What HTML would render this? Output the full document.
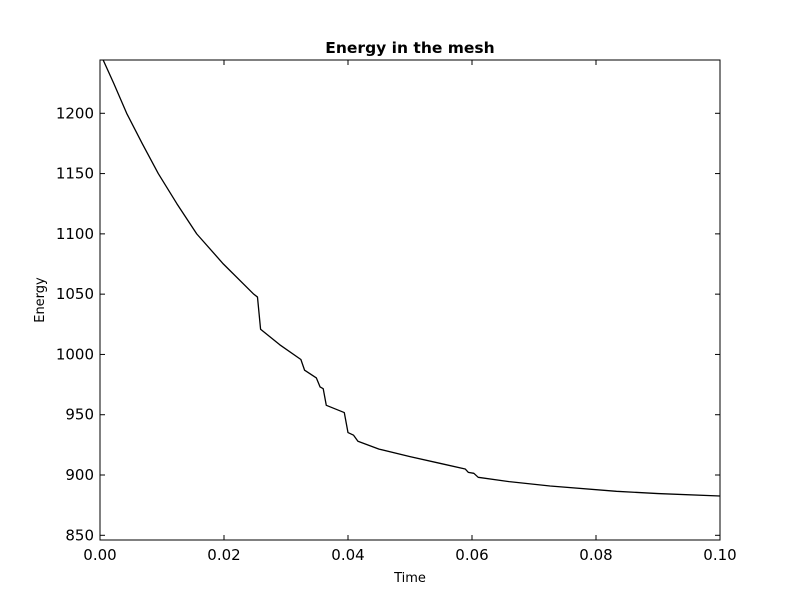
<!DOCTYPE html>
<html><head><meta charset="utf-8"><style>
body{margin:0;background:#fff}
svg text{font-family:"DejaVu Sans","Liberation Sans",sans-serif}
</style></head><body>
<svg id="chart" width="800" height="600" xmlns="http://www.w3.org/2000/svg">
<rect width="800" height="600" fill="#fff"/>
<text x="410" y="53" text-anchor="middle" font-size="15.5" font-weight="bold">Energy in the mesh</text>
<text x="410" y="582" text-anchor="middle" font-size="13">Time</text>
<text x="44" y="300" text-anchor="middle" font-size="13" transform="rotate(-90 44 300)">Energy</text>
<defs><clipPath id="plotclip"><rect x="100" y="60" width="620" height="480"/></clipPath></defs>
<g id="ticks"></g>
<path id="line" fill="none" stroke="#000" stroke-width="1.3" stroke-linejoin="round" clip-path="url(#plotclip)"/>
<rect x="100" y="60" width="620" height="480" fill="none" stroke="#000" stroke-width="1"/>
</svg>
<script>
const times=[0,0.0022,0.0043,0.0068,0.0094,0.0124,0.0156,0.0199,0.0248,0.0254,0.0259,0.029,0.0324,0.033,0.0349,0.0355,0.036,0.0365,0.0394,0.04,0.0409,0.0416,0.045,0.05,0.055,0.0589,0.0594,0.0603,0.061,0.066,0.0726,0.0833,0.09,0.1];
const energy=[1250,1225,1200,1175,1150,1125,1100,1075,1050,1047.6,1020.9,1008,995.8,986.9,980.5,973,971.6,957.8,951.8,935.2,933,928,921.5,915.2,909.5,905,902.2,901.4,898.1,894.5,890.9,886.5,884.6,882.6];
const xTicks=[0,0.02,0.04,0.06,0.08,0.10];
const xTickLabels=["0.00","0.02","0.04","0.06","0.08","0.10"];
const yTicks=[850,900,950,1000,1050,1100,1150,1200];
const yTickLabels=["850","900","950","1000","1050","1100","1150","1200"];
const X0=100,X1=720,Y0=540,Y1=60,xMin=0,xMax=0.1,yMin=846.1,yMax=1244.2;
function sx(v){return X0+(v-xMin)/(xMax-xMin)*(X1-X0);}
function sy(v){return Y0-(v-yMin)/(yMax-yMin)*(Y0-Y1);}
const NS="http://www.w3.org/2000/svg";
const g=document.getElementById('ticks');
function mk(tag,attrs,parent){const e=document.createElementNS(NS,tag);for(const k in attrs)e.setAttribute(k,attrs[k]);parent.appendChild(e);return e;}
xTicks.forEach((v,i)=>{
  const x=sx(v);
  const t1=mk('line',{x1:x,x2:x,y1:Y0,y2:Y0-5,stroke:'#000'},g);
  
  
  const t2=mk('line',{x1:x,x2:x,y1:Y1,y2:Y1+5,stroke:'#000'},g);
  
  
  const tx=mk('text',{x:x,y:Y0+20,'text-anchor':'middle','font-size':'15'},g);
  tx.textContent=xTickLabels[i];
  
  
});
yTicks.forEach((v,i)=>{
  const y=sy(v);
  const t1=mk('line',{x1:X0,x2:X0+5,y1:y,y2:y,stroke:'#000'},g);
  
  
  const t2=mk('line',{x1:X1,x2:X1-5,y1:y,y2:y,stroke:'#000'},g);
  
  
  const tx=mk('text',{x:X0-6,y:y+5,'text-anchor':'end','font-size':'15'},g);
  tx.textContent=yTickLabels[i];
  
  
});
document.getElementById('line').setAttribute('d',times.map((t,i)=>(i?'L':'M')+sx(t).toFixed(2)+','+sy(energy[i]).toFixed(2)).join(''));
</script>
</body></html>
